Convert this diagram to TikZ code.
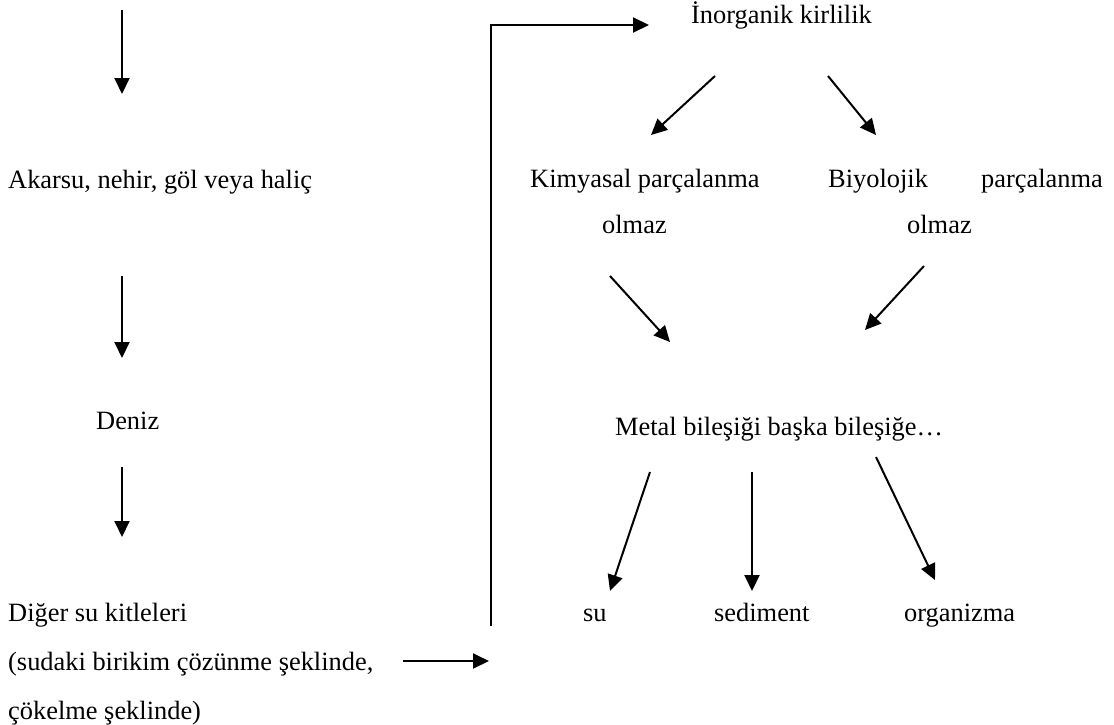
\documentclass[tikz,border=0pt]{standalone}
\usepackage{fontspec}
\setmainfont{Liberation Serif}
\usetikzlibrary{arrows.meta}
\begin{document}
\begin{tikzpicture}[x=1pt,y=-1pt,
  txt/.style={anchor=base west,inner sep=0pt,font=\fontsize{26.4}{30}\selectfont},
  arr/.style={line width=2pt,-{Triangle[length=16pt,width=15pt]}},
  ln/.style={line width=2pt}]
\useasboundingbox (0,0) rectangle (1114,724);
% left column
\node[txt] (akarsu) at (8,188) {Akarsu, nehir, göl veya haliç};
\node[txt] (deniz) at (96,429) {Deniz};
\node[txt] (diger) at (8,621) {Diğer su kitleleri};
\node[txt] (sudaki) at (8,670) {(sudaki birikim çözünme şeklinde,};
\node[txt] (cokelme) at (8,719) {çökelme şeklinde)};
% right part
\node[txt] (inorg) at (691,23) {İnorganik kirlilik};
\node[txt] (kimya) at (530,187) {Kimyasal parçalanma};
\node[txt] (kolmaz) at (602,233) {olmaz};
\node[txt] (biyo) at (828,187) {Biyolojik};
\node[txt] (parc) at (981,187) {parçalanma};
\node[txt] (bolmaz) at (907,233) {olmaz};
\node[txt] (metal) at (615,435) {Metal bileşiği başka bileşiğe…};
\node[txt] (su) at (583,621) {su};
\node[txt] (sed) at (714,621) {sediment};
\node[txt] (org) at (904,621) {organizma};
% arrow end points
\coordinate (a1s) at (122,10);   \coordinate (a1e) at (122,94);
\coordinate (a2s) at (122,276);  \coordinate (a2e) at (122,358);
\coordinate (a3s) at (122,467);  \coordinate (a3e) at (122,537);
\coordinate (hs) at (403,661);   \coordinate (he) at (489,661);
\coordinate (vb) at (491,626);   \coordinate (vt) at (491,25);
\coordinate (te) at (649,25);
\coordinate (il1) at (715,76);   \coordinate (il2) at (651,135);
\coordinate (ir1) at (828,76);   \coordinate (ir2) at (876,135);
\coordinate (kl1) at (610,276);  \coordinate (kl2) at (670,342);
\coordinate (br1) at (924,266);  \coordinate (br2) at (865,330);
\coordinate (m11) at (650,472);  \coordinate (m12) at (610,591);
\coordinate (m21) at (752,472);  \coordinate (m22) at (752,591);
\coordinate (m31) at (876,457);  \coordinate (m32) at (935,580);
% connectors
\draw[arr] (a1s) -- (a1e);
\draw[arr] (a2s) -- (a2e);
\draw[arr] (a3s) -- (a3e);
\draw[arr] (hs) -- (he);
\draw[arr] (vb) -- (vt) -- (te);
\draw[arr] (il1) -- (il2);
\draw[arr] (ir1) -- (ir2);
\draw[arr] (kl1) -- (kl2);
\draw[arr] (br1) -- (br2);
\draw[arr] (m11) -- (m12);
\draw[arr] (m21) -- (m22);
\draw[arr] (m31) -- (m32);
\end{tikzpicture}
\end{document}
